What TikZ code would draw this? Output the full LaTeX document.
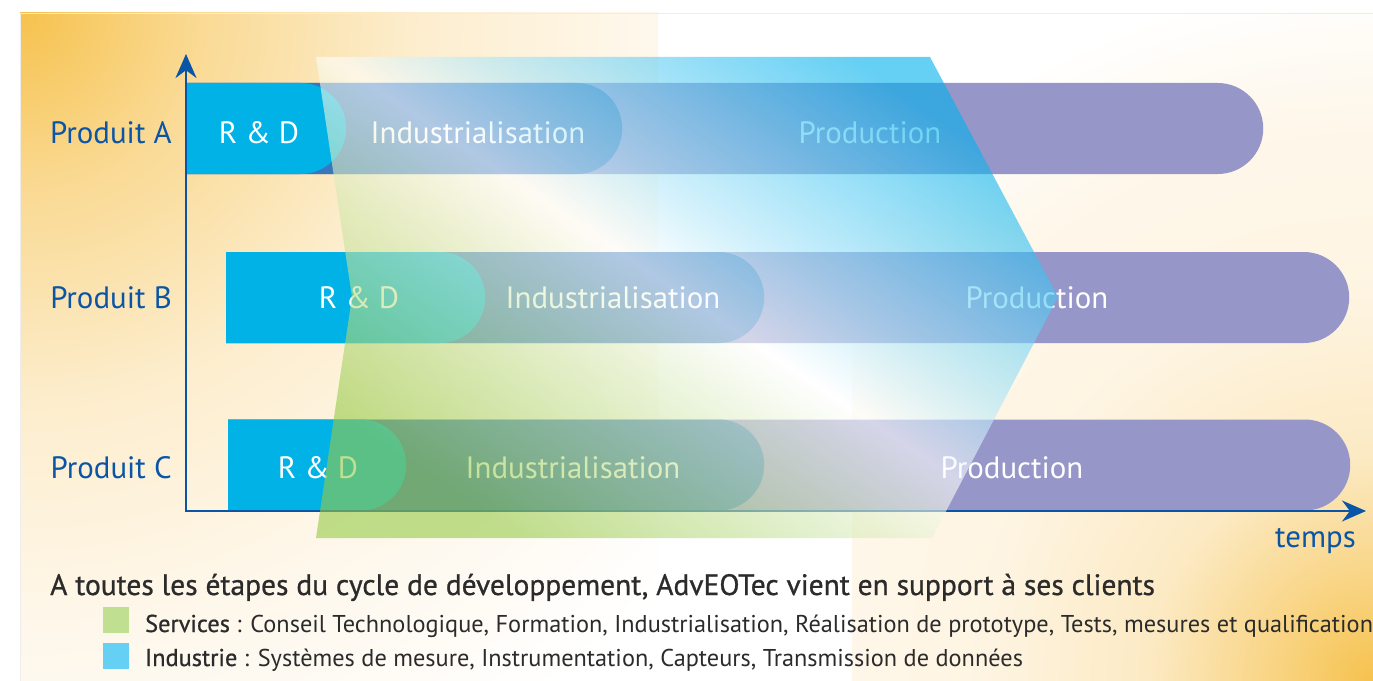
\documentclass[tikz,border=0pt]{standalone}
\usepackage{fontspec}
\setmainfont{PT Sans}
\newfontfamily\medfont{PT Sans}[FakeBold=0.8]
\usepackage{tikz}
\usetikzlibrary{shapes.misc, arrows.meta}
\definecolor{axisblue}{HTML}{0A55A5}
\definecolor{rdcyan}{HTML}{00B2E6}
\definecolor{indblue}{HTML}{3A76BB}
\definecolor{prodpurple}{HTML}{9696C8}
\definecolor{svgreen}{HTML}{96CA46}
\definecolor{indcyan}{HTML}{00B1ED}
\definecolor{glow}{HTML}{F6C24E}
\definecolor{cream}{HTML}{FEF7EA}
\definecolor{legendtext}{HTML}{2B2B2B}
\pgfdeclareradialshading{glowleft}{\pgfpoint{0bp}{0bp}}{color(0bp)=(glow); color(5bp)=(glow!55!cream); color(11bp)=(glow!18!cream); color(17bp)=(cream); color(24bp)=(white); color(50bp)=(white)}
\pgfdeclareradialshading{glowright}{\pgfpoint{0bp}{0bp}}{color(0bp)=(glow); color(4bp)=(glow!62!cream); color(8bp)=(glow!25!cream); color(14bp)=(glow!5!cream); color(20bp)=(cream); color(25bp)=(white); color(50bp)=(white)}
\pgfdeclarehorizontalshading{support}{100bp}{color(0bp)=(svgreen); color(25bp)=(svgreen); color(43bp)=(svgreen!30!white); color(50bp)=(white); color(57bp)=(indcyan!30!white); color(75bp)=(indcyan); color(100bp)=(indcyan)}
\tikzstyle{phase} = [rounded rectangle, rounded rectangle left arc=none, minimum height=91bp, inner sep=0pt, anchor=west]
\tikzstyle{phasetext} = [text=white, font=\fontsize{31}{36}\selectfont, anchor=base, inner sep=0pt]
\tikzstyle{produit} = [text=axisblue, font=\fontsize{31}{36}\selectfont, anchor=base east, inner sep=0pt]
\tikzstyle{axis} = [axisblue, line width=2.2bp, {Stealth[length=24bp, width=21bp]}-{Stealth[length=24bp, width=21bp]}]
\tikzstyle{legendbox} = [minimum size=26bp, inner sep=0pt]
\tikzstyle{legendline} = [text=legendtext, font=\fontsize{24.4}{28}\selectfont, anchor=base west, inner sep=0pt]
\begin{document}
\begin{tikzpicture}[x=1bp, y=-1bp]
	\useasboundingbox (0,0) rectangle (1373,681);
	\fill[white] (0,0) rectangle (1373,681);
	\begin{scope}
		\clip (20,13) rectangle (658,681);
		\shade[shading=glowleft] (20,13) circle[radius=900bp];
	\end{scope}
	\begin{scope}
		\clip (852,13) rectangle (1373,681);
		\shade[shading=glowright] (1373,681) circle[radius=700bp];
	\end{scope}
	\draw[black!7] (20,681) -- (20,13) -- (1373,13);
	
	\node (ProdA) [phase, fill=prodpurple, minimum width=1077bp] at (186,128.5) {};
	\node (IndusA) [phase, fill=indblue, minimum width=436bp] at (ProdA.west) {};
	\node (RDA) [phase, fill=rdcyan, minimum width=160bp] at (ProdA.west) {};
	\node (ProdB) [phase, fill=prodpurple, minimum width=1123bp] at (226,297.5) {};
	\node (IndusB) [phase, fill=indblue, minimum width=538bp] at (ProdB.west) {};
	\node (RDB) [phase, fill=rdcyan, minimum width=259bp] at (ProdB.west) {};
	\node (ProdC) [phase, fill=prodpurple, minimum width=1122bp] at (228,465) {};
	\node (IndusC) [phase, fill=indblue, minimum width=536bp] at (ProdC.west) {};
	\node (RDC) [phase, fill=rdcyan, minimum width=178bp] at (ProdC.west) {};
	
	\node (tRDA) [phasetext] at (259,143) {R \& D};
	\node (tIndusA) [phasetext] at (478,143) {Industrialisation};
	\node (tProdA) [phasetext] at (870,143) {Production};
	\node (tRDB) [phasetext] at (359,308) {R \& D};
	\node (tIndusB) [phasetext] at (613,308) {Industrialisation};
	\node (tProdB) [phasetext] at (1037,308) {Production};
	\node (tRDC) [phasetext] at (318,478) {R \& D};
	\node (tIndusC) [phasetext] at (573,478) {Industrialisation};
	\node (tProdC) [phasetext] at (1012,478) {Production};
	
	\node (labA) [produit] at (172,143) {Produit A};
	\node (labB) [produit] at (172,308) {Produit B};
	\node (labC) [produit] at (172,478) {Produit C};
	\node (temps) [produit] at (1356,547) {temps};
	
	\coordinate (origin) at (186,511);
	\coordinate (ytip) at (186,54);
	\coordinate (xtip) at (1366,511);
	\draw [axis] (ytip) -- (origin) -- (xtip);
	
	\begin{scope}[transparency group, opacity=0.6]
		\shade[shading=support, shading angle=56] (316,57) -- (930,57) -- (1058,297) -- (932,538) -- (316,538) -- (352,297) -- cycle;
	\end{scope}
	
	\node (title) [legendline, font=\fontsize{29.6}{34}\medfont] at (50,595) {A toutes les étapes du cycle de développement, AdvEOTec vient en support à ses clients};
	\node (keyServices) [legendbox, fill=svgreen!60!white] at (116,620) {};
	\node (keyIndustrie) [legendbox, fill=indcyan!60!white] at (116,655.5) {};
	\node (services) [legendline] at (145,632) {{\medfont Services} : Conseil Technologique, Formation, Industrialisation, Réalisation de prototype, Tests, mesures et qualification};
	\node (industrie) [legendline] at (145,666) {{\medfont Industrie} : Systèmes de mesure, Instrumentation, Capteurs, Transmission de données};
\end{tikzpicture}
\end{document}
